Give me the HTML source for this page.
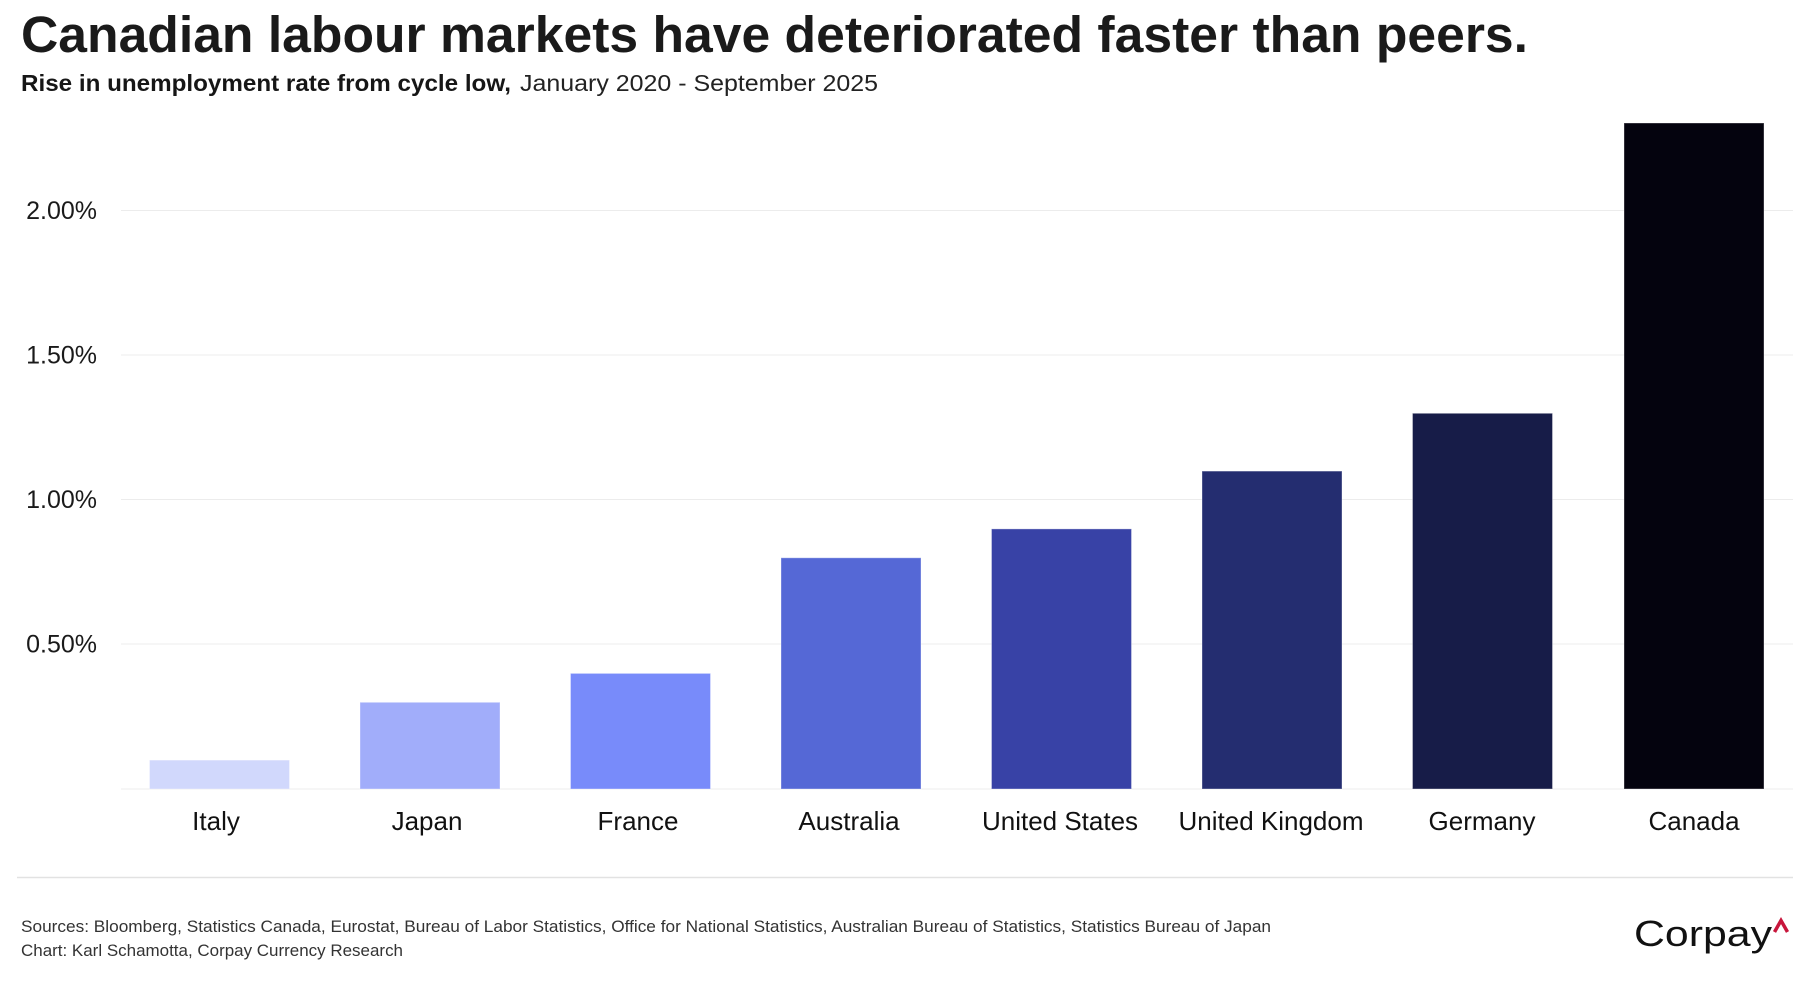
<!DOCTYPE html>
<html><head><meta charset="utf-8"><style>
html,body{margin:0;padding:0;background:#fff;}
svg{display:block;}
</style></head><body>
<svg width="1800" height="1000" viewBox="0 0 1800 1000" xmlns="http://www.w3.org/2000/svg" font-family="'Liberation Sans', sans-serif">
<rect width="1800" height="1000" fill="#fff"/>
<text x="21" y="52" font-size="51" font-weight="bold" fill="#1a1a1a" textLength="1507" lengthAdjust="spacingAndGlyphs">Canadian labour markets have deteriorated faster than peers.</text>
<text x="21" y="91" font-size="23" font-weight="bold" fill="#161616" textLength="490" lengthAdjust="spacingAndGlyphs">Rise in unemployment rate from cycle low,</text>
<text x="520" y="91" font-size="23" fill="#222" textLength="358" lengthAdjust="spacingAndGlyphs">January 2020 - September 2025</text>
<g stroke="#ececec" stroke-width="1">
<line x1="121" y1="210.5" x2="1793" y2="210.5"/>
<line x1="121" y1="355" x2="1793" y2="355"/>
<line x1="121" y1="499.5" x2="1793" y2="499.5"/>
<line x1="121" y1="644" x2="1793" y2="644"/>
<line x1="121" y1="789" x2="1793" y2="789"/>
</g>
<g font-size="25" fill="#1a1a1a" text-anchor="end">
<text x="97" y="219">2.00%</text>
<text x="97" y="363.5">1.50%</text>
<text x="97" y="508">1.00%</text>
<text x="97" y="652.5">0.50%</text>
</g>
<g stroke="rgba(255,255,255,0.35)" stroke-width="1">
<rect x="149.5" y="760.1" width="140" height="28.9" fill="#d1d8fc"/>
<rect x="360" y="702.3" width="140" height="86.7" fill="#a1adfa"/>
<rect x="570.5" y="673.4" width="140" height="115.6" fill="#788bfa"/>
<rect x="781" y="557.8" width="140" height="231.2" fill="#5568d6"/>
<rect x="991.5" y="528.9" width="140" height="260.1" fill="#3842a6"/>
<rect x="1202" y="471.1" width="140" height="317.9" fill="#242d70"/>
<rect x="1412.5" y="413.3" width="140" height="375.7" fill="#171c48"/>
<rect x="1624" y="123" width="140" height="666" fill="#04030e"/>
</g>
<g font-size="26" fill="#111" text-anchor="middle">
<text x="216" y="830">Italy</text>
<text x="427" y="830">Japan</text>
<text x="638" y="830">France</text>
<text x="849" y="830">Australia</text>
<text x="1060" y="830">United States</text>
<text x="1271" y="830">United Kingdom</text>
<text x="1482" y="830">Germany</text>
<text x="1694" y="830">Canada</text>
</g>
<line x1="17" y1="877.5" x2="1793" y2="877.5" stroke="#e2e2e2" stroke-width="1.5"/>
<text x="21" y="932" font-size="17" fill="#333" textLength="1250" lengthAdjust="spacingAndGlyphs">Sources: Bloomberg, Statistics Canada, Eurostat, Bureau of Labor Statistics, Office for National Statistics, Australian Bureau of Statistics, Statistics Bureau of Japan</text>
<text x="21" y="956" font-size="17" fill="#333" textLength="382" lengthAdjust="spacingAndGlyphs">Chart: Karl Schamotta, Corpay Currency Research</text>
<text x="1634" y="946" font-size="36" fill="#111" textLength="138" lengthAdjust="spacingAndGlyphs">Corpay</text>
<polyline points="1774.5,932 1781,920.5 1787.5,932" fill="none" stroke="#c8163c" stroke-width="3.5" stroke-linejoin="miter"/>
</svg>
</body></html>
